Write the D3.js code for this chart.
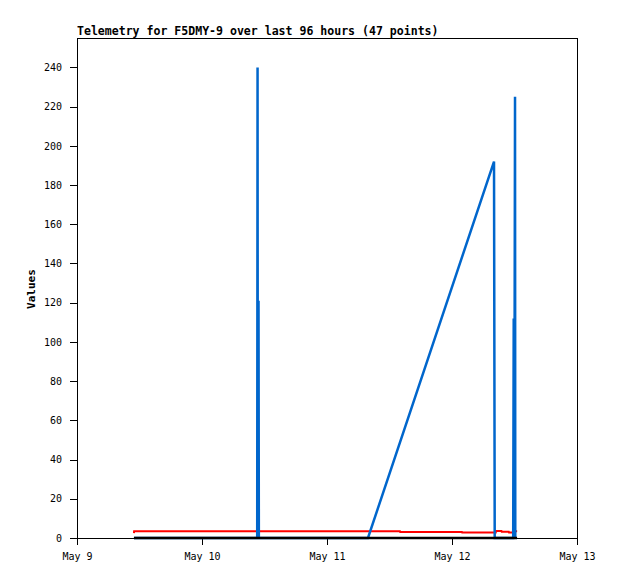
<!DOCTYPE html>
<html>
<head>
<meta charset="utf-8">
<script src="https://cdn.jsdelivr.net/npm/d3@7"></script>
<style>
  html, body { margin: 0; padding: 0; background: #fff; }
  svg { display: block; }
  text { font-family: "DejaVu Sans Mono", "Liberation Mono", monospace; }
</style>
</head>
<body>
<svg id="chart" width="618" height="579"></svg>
<script>
// ---- Data ----
const titleText = "Telemetry for F5DMY-9 over last 96 hours (47 points)";
const yLabel = "Values";
const xDomain = ["2024-05-09T00:00:00Z", "2024-05-13T00:00:00Z"];
const yDomain = [0, 255];
const yTicks = [0, 20, 40, 60, 80, 100, 120, 140, 160, 180, 200, 220, 240];

const redTimes = ["2024-05-09T10:56:00Z","2024-05-09T10:58:00Z","2024-05-11T14:00:00Z","2024-05-11T14:03:00Z",
  "2024-05-12T01:54:00Z","2024-05-12T01:57:00Z","2024-05-12T08:24:00Z","2024-05-12T08:27:00Z",
  "2024-05-12T09:30:00Z","2024-05-12T09:33:00Z","2024-05-12T10:54:00Z","2024-05-12T10:57:00Z",
  "2024-05-12T11:42:00Z","2024-05-12T11:45:00Z","2024-05-12T12:30:00Z"];
const redValues = [2.5, 3.5, 3.5, 3.1, 3.1, 2.8, 2.8, 3.6, 3.6, 3.2, 3.2, 2.8, 2.8, 3.5, 3.5];

const blueTimes = ["2024-05-09T10:56:00Z","2024-05-10T10:36:00Z","2024-05-10T10:40:00Z","2024-05-10T10:43:00Z",
  "2024-05-10T10:51:00Z","2024-05-10T10:55:00Z","2024-05-11T07:52:00Z","2024-05-12T08:04:00Z",
  "2024-05-12T08:12:00Z","2024-05-12T11:45:00Z","2024-05-12T11:51:00Z","2024-05-12T11:57:00Z",
  "2024-05-12T12:06:00Z","2024-05-12T12:09:00Z"];
const blueValues = [0, 0, 240, 0, 121, 0, 0, 192, 0, 0, 112, 0, 225, 0];

const blackTimes = ["2024-05-09T10:56:00Z", "2024-05-12T12:30:00Z"];
const blackValues = [0, 0];

// ---- Layout ----
const svg = d3.select("#chart");
const L = 77, R = 577, T = 38, B = 538;

const x = d3.scaleUtc().domain(xDomain.map(d => new Date(d))).range([L, R]);
const y = d3.scaleLinear().domain(yDomain).range([B, T]);

// Border box
svg.append("rect")
  .attr("x", L + 0.5).attr("y", T + 0.5)
  .attr("width", R - L).attr("height", B - T)
  .attr("fill", "none").attr("stroke", "#000").attr("stroke-width", 1)
  .attr("shape-rendering", "crispEdges");

// Axes
const xAxis = d3.axisBottom(x)
  .ticks(d3.utcDay.every(1))
  .tickFormat(d3.utcFormat("%b %-d"))
  .tickSizeInner(7).tickSizeOuter(0).tickPadding(8);
const gx = svg.append("g").attr("transform", `translate(0,${B})`).call(xAxis);

const yAxis = d3.axisLeft(y).tickValues(yTicks).tickSizeInner(7).tickSizeOuter(0).tickPadding(8);
const gy = svg.append("g").attr("transform", `translate(${L},0)`).call(yAxis);

[gx, gy].forEach(g => {
  g.selectAll("path,line").attr("stroke", "#000").attr("shape-rendering", "crispEdges");
  g.selectAll("text").attr("fill", "#000").style("font-size", "10px")
    .style("font-family", '"DejaVu Sans Mono", "Liberation Mono", monospace');
});

// Series
const line = d3.line().x(d => x(d[0])).y(d => y(d[1]));
function series(times, vals, color, w) {
  const pts = times.map((t, i) => [new Date(t), vals[i]]);
  svg.append("path").datum(pts)
    .attr("d", line)
    .attr("fill", "none").attr("stroke", color).attr("stroke-width", w)
    .attr("stroke-linejoin", "miter");
}
series(redTimes, redValues, "#ff0000", 2);
series(blueTimes, blueValues, "#0066cc", 2.5);
series(blackTimes, blackValues, "#000000", 2.6);

// Title
svg.append("text").attr("x", L).attr("y", 35)
  .style("font-size", "11.55px").style("font-weight", "bold")
  .text(titleText);

// Y label
svg.append("text")
  .attr("transform", `translate(35,289) rotate(-90)`)
  .attr("text-anchor", "middle")
  .style("font-size", "11px").style("font-weight", "bold")
  .text(yLabel);
</script>
</body>
</html>
